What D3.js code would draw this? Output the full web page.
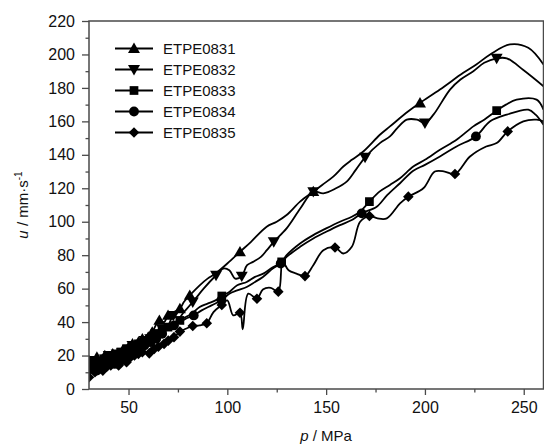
<!DOCTYPE html>
<html><head><meta charset="utf-8">
<script src="https://cdnjs.cloudflare.com/ajax/libs/d3/7.8.5/d3.min.js"></script>
<style>
body{margin:0;background:#fff;}
svg{display:block;font-family:"Liberation Sans",Arial,sans-serif;}
</style></head>
<body><svg id="chart" width="544" height="446"></svg>
<script>
// ---- data ----
const seriesNames = ["ETPE0831","ETPE0832","ETPE0833","ETPE0834","ETPE0835"];
const xTicks = [50,100,150,200,250];
const xMinorTicks = [75,125,175,225];
const yTicks = [0,20,40,60,80,100,120,140,160,180,200,220];
const yMinorTicks = [10,30,50,70,90,110,130,150,170,190,210];

const line0831 = [[30,17],[32,15],[34,19],[36,17],[38,20],[40,18],[42,21],[45,20],[47,23],[50,25],[52,27],[55,28],[57,30],[60,31],[62,34],[65.6,41],[68,40],[70,44],[73,46],[76,48],[78,52],[81,56],[86,62],[90,66],[94,69],[100,75],[106.4,82],[112,88],[119.9,97],[125,100],[130,104],[136.8,112],[143.5,118],[148,122],[153.6,127],[158.7,133],[163,137],[168.8,142],[177.2,152],[182.3,157],[191.6,166],[197.5,171],[207.6,179],[219.4,189],[226,194],[233,200],[243,206],[252.3,204],[260,194]];
const marks0831 = [[30,17],[32,15],[34,19],[36,17],[38,20],[40,18],[42,21],[45,20],[47,23],[50,25],[52,27],[55,28],[57,30],[60,31],[62,34],[65.6,41],[70,44],[76,48],[81,56],[106.4,82],[143.5,118],[197.5,171]];

const line0832 = [[30,14],[32,17],[34,13],[36,16],[38,18],[40,20],[42,17],[44,21],[47,22],[50,24],[52,26],[55,25],[58,29],[61,30],[64,33],[67,36],[70,38],[72.7,44],[75,42],[78,46],[82.5,52],[88,60],[94.3,68],[98,72],[101,71],[104,66],[107.3,67.5],[110,74],[113,76],[117,79],[120,83],[123.5,88],[130,96],[137,108],[143.5,118],[148.6,117],[155,120],[160.4,124],[165,131],[169.7,138.5],[177.2,147],[182.3,151],[186,156],[190.8,161],[196,161],[200,159],[204.3,164],[212.7,179],[218,185],[224.5,190],[230,195],[236.3,197.7],[241.4,197.7],[249.8,190.7],[260,181]];
const marks0832 = [[30,14],[32,17],[34,13],[36,16],[38,18],[40,20],[42,17],[44,21],[47,22],[50,24],[52,26],[55,25],[58,29],[61,30],[64,33],[67,36],[72.7,44],[82.5,52],[94.3,68],[107.3,67.5],[123.5,88],[143.5,118],[169.7,138.5],[200,159],[236.3,197.7]];

const line0833 = [[30,13],[32,15],[34,16],[36,14],[38,18],[40,17],[43,19],[46,22],[49,24],[52,26],[55,27],[58,29],[61,30],[64,33],[67,35],[70,37],[73,39],[76,41],[79,43],[82,45],[86,49],[90,51],[94,53],[97.2,55.6],[101,58],[105,62],[109.8,64],[114,67],[118.2,69],[122,72],[127.5,76],[130,80],[136.8,87],[143.5,92],[150,96],[157,100],[163,103],[167.2,106],[171.9,112],[177,118],[182.3,122],[187.4,126],[194.1,133],[200,137],[207.6,143],[216,149],[224.5,157],[230,161],[236.3,166.4],[241,170],[246.4,173],[256.5,173],[260,167]];
const marks0833 = [[30,13],[32,15],[34,16],[36,14],[38,18],[40,17],[43,19],[46,22],[49,24],[52,26],[55,27],[58,29],[61,30],[64,33],[67,35],[70,37],[76,41],[97.2,55.6],[127.5,76],[171.9,112],[236.3,166.4]];

const line0834 = [[30,12],[32,14],[34,11],[36,15],[38,13],[40,16],[43,15],[46,18],[49,20],[52,23],[55,24],[58,26],[61,28],[64,30],[67,33],[70,36],[73,38],[76,40],[79,42],[83,44],[87,47],[92,50],[97,53],[101,57],[105,59],[109.8,61],[114,64],[118,67],[123,72],[127,75],[130,79],[136.8,85],[143.5,90],[150,94],[157,98],[163,101],[168,105],[175.6,109],[181,116],[187.4,123],[194.1,130.5],[200,134],[207.6,139],[216,145],[225.8,151],[233,160],[241.4,164],[252.3,167],[256,164],[260,158]];
const marks0834 = [[30,12],[32,14],[34,11],[36,15],[38,13],[40,16],[43,15],[46,18],[49,20],[52,23],[55,24],[58,26],[61,28],[64,30],[67,33],[73,38],[83,44],[97,53],[127,75],[168,105],[225.8,151]];

const line0835 = [[30,7],[31,12],[33,10],[35,13],[37,11],[39,15],[41,14],[43,16],[45,14],[47,17],[49,16],[51,19],[53,20],[55,21],[57,22],[60.5,21.3],[63,24],[65.1,25.3],[68,27],[70.1,28.9],[73,31],[76,34.3],[79,36],[82.5,37.7],[86,38],[89.6,39.3],[93,46],[97.2,50.2],[100,53],[103,44],[106.4,45.6],[107.8,35.7],[110.6,57],[115,54],[118,59.5],[122,60.5],[125.8,58.2],[128,76],[131,71],[135,69],[139.3,67.5],[143.5,74],[148.6,83],[154.5,84.6],[158.7,81],[163,85],[167.2,100],[171.9,103.4],[176,102],[180.7,102],[187.4,111],[191.6,115],[199.2,120],[205,130],[210,130],[215.2,128.5],[222.8,139],[231,145],[236.3,147],[241.9,154],[249.8,160],[256.5,161],[260,160]];
const marks0835 = [[30,7],[31,12],[33,10],[35,13],[37,11],[39,15],[41,14],[43,16],[45,14],[47,17],[49,16],[51,19],[53,20],[55,21],[57,22],[60.5,21.3],[63,24],[65.1,25.3],[68,27],[70.1,28.9],[73,31],[76,34.3],[82.5,37.7],[89.6,39.3],[97.2,50.2],[106.4,45.6],[115,54],[125.8,58.2],[139.3,67.5],[154.5,84.6],[171.9,103.4],[191.6,115],[215.2,128.5],[241.9,154]];

const seriesLines = [line0831,line0832,line0833,line0834,line0835];
const seriesMarks = [marks0831,marks0832,marks0833,marks0834,marks0835];

// ---- layout ----
const svg = d3.select("#chart");
const L=89, R=543.5, T=21, B=389;
const x = d3.scaleLinear().domain([30,260]).range([L,R]);
const y = d3.scaleLinear().domain([0,220]).range([B,T]);
const axisColor = "#4a4a4a";

const shapes = [
  {type:d3.symbolTriangle, size:62, rot:0, dy:1},
  {type:d3.symbolTriangle, size:62, rot:180, dy:-1},
  {type:d3.symbolSquare, size:76, rot:0, dy:0},
  {type:d3.symbolCircle, size:76, rot:0, dy:0},
  {type:d3.symbolSquare, size:56, rot:45, dy:0}
];
function drawMark(g, px, py, i){
  const s = shapes[i];
  g.append("path")
    .attr("d", d3.symbol().type(s.type).size(s.size)())
    .attr("transform", `translate(${px},${py + s.dy}) rotate(${s.rot})`)
    .attr("fill","#000");
}

svg.append("clipPath").attr("id","clip").append("rect")
  .attr("x",L).attr("y",T).attr("width",R-L).attr("height",B-T);

const plot = svg.append("g").attr("clip-path","url(#clip)");
const lineGen = d3.line().x(d=>x(d[0])).y(d=>y(d[1])).curve(d3.curveCatmullRom.alpha(0.5));

seriesLines.forEach((pts,i)=>{
  plot.append("path").attr("d", lineGen(pts))
    .attr("fill","none").attr("stroke","#000").attr("stroke-width",1.8)
    .attr("stroke-linejoin","round");
});
seriesMarks.forEach((pts,i)=>{
  const g = plot.append("g");
  pts.forEach(d=>drawMark(g, x(d[0]), y(d[1]), i));
});

svg.append("rect").attr("x",L).attr("y",T).attr("width",R-L).attr("height",B-T)
  .attr("fill","none").attr("stroke",axisColor).attr("stroke-width",1.5);

svg.append("g").attr("transform",`translate(0,${B})`)
  .call(d3.axisBottom(x).tickValues(xTicks).tickSize(6).tickPadding(7).tickFormat(d3.format("d")));
svg.append("g").attr("transform",`translate(0,${B})`)
  .call(d3.axisBottom(x).tickValues(xMinorTicks).tickSize(3.5).tickFormat(""));
svg.append("g").attr("transform",`translate(${L},0)`)
  .call(d3.axisLeft(y).tickValues(yTicks).tickSize(7).tickPadding(7).tickFormat(d3.format("d")));
svg.append("g").attr("transform",`translate(${L},0)`)
  .call(d3.axisLeft(y).tickValues(yMinorTicks).tickSize(3.5).tickFormat(""));

svg.selectAll(".domain").remove();
svg.selectAll(".tick line").attr("stroke",axisColor).attr("stroke-width",1.3);
svg.selectAll(".tick text").attr("fill","#111").style("font-size","16px")
  .style("font-family","'Liberation Sans',Arial,sans-serif");

const xt = svg.append("text").attr("x",326).attr("y",441).attr("text-anchor","middle")
  .style("font-size","15px").attr("fill","#111");
xt.append("tspan").style("font-style","italic").text("p");
xt.append("tspan").text(" / MPa");

const yt = svg.append("text").attr("transform",`translate(28,${(T+B)/2}) rotate(-90)`)
  .attr("text-anchor","middle").style("font-size","15px").attr("fill","#111");
yt.append("tspan").style("font-style","italic").text("u");
yt.append("tspan").text(" / mm·s");
yt.append("tspan").attr("dy","-6").style("font-size","10px").text("-1");

const legend = svg.append("g");
seriesNames.forEach((name,i)=>{
  const cy = 48.5 + i*21;
  legend.append("line").attr("x1",115).attr("x2",153).attr("y1",cy).attr("y2",cy)
    .attr("stroke","#000").attr("stroke-width",1.8);
  drawMark(legend, 134, cy, i);
  legend.append("text").attr("x",163).attr("y",cy+5.5).style("font-size","15px")
    .attr("fill","#111").text(name);
});
</script>
</body></html>
